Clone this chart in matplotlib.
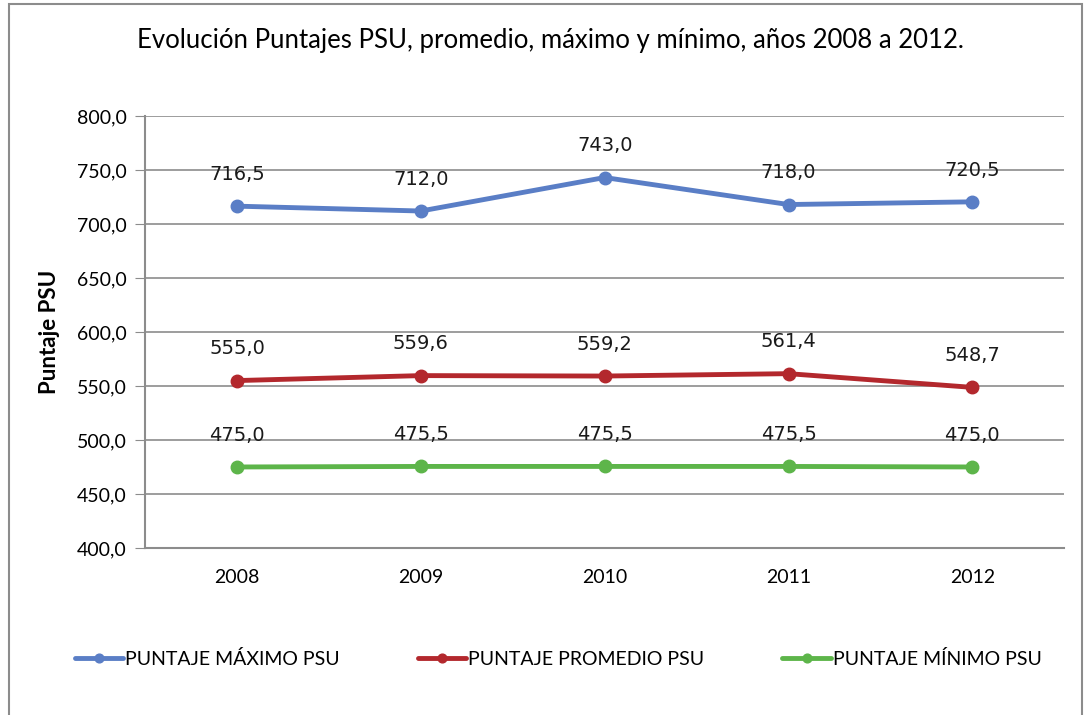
import matplotlib
matplotlib.use("Agg")
import matplotlib.pyplot as plt
from matplotlib.patches import Rectangle

years = ["2008", "2009", "2010", "2011", "2012"]
maximo = [716.5, 712.0, 743.0, 718.0, 720.5]
promedio = [555.0, 559.6, 559.2, 561.4, 548.7]
minimo = [475.0, 475.5, 475.5, 475.5, 475.0]
yticks = [400, 450, 500, 550, 600, 650, 700, 750, 800]

title = "Evolución Puntajes PSU, promedio, máximo y mínimo, años 2008 a 2012."
labels = ["PUNTAJE MÁXIMO PSU", "PUNTAJE PROMEDIO PSU", "PUNTAJE MÍNIMO PSU"]
colors = ["#5A7EC6", "#B3282D", "#5DB54A"]

narrow = ["Lato", "DejaVu Sans"]

fig = plt.figure(figsize=(10.84, 7.15), dpi=100)
fig.patches.append(Rectangle((0.008, -0.05), 0.99, 1.045, transform=fig.transFigure,
                             fill=False, edgecolor="#8c8c8c", linewidth=1.5))

ax = fig.add_axes([0.1338, 0.2336, 0.848, 0.6042])
x = list(range(len(years)))
handles = []
for vals, c, lab in zip([maximo, promedio, minimo], colors, labels):
    h, = ax.plot(x, vals, color=c, linewidth=3.5, marker="o", markersize=9, label=lab,
                 solid_capstyle="round")
    handles.append(h)
    for xi, v in zip(x, vals):
        ax.annotate(f"{v:.1f}".replace(".", ","), (xi, v), xytext=(0, 16),
                    textcoords="offset points", ha="center", va="bottom",
                    fontsize=14, color="#1a1a1a")

ax.set_xlim(-0.5, 4.5)
ax.set_ylim(400, 800)
ax.set_yticks(yticks)
ax.set_yticklabels([f"{t:.1f}".replace(".", ",") for t in yticks], fontsize=14, family=narrow)
ax.set_xticks(x)
ax.set_xticklabels(years, fontsize=14, family=narrow)
ax.tick_params(axis="x", length=0, pad=15)
ax.tick_params(axis="y", length=7, color="#8c8c8c", pad=6)
ax.grid(axis="y", color="#8c8c8c", linewidth=1.2)
ax.set_axisbelow(True)
for s in ["top", "right"]:
    ax.spines[s].set_visible(False)
ax.spines["left"].set_color("#8c8c8c")
ax.spines["left"].set_linewidth(1.5)
ax.spines["bottom"].set_color("#8c8c8c")
ax.spines["bottom"].set_linewidth(1.5)
ax.set_ylabel("Puntaje PSU", fontsize=16, fontweight="bold", family=narrow, labelpad=12)

fig.text(0.508, 0.943, title, ha="center", va="center", fontsize=18.5, family=narrow)

fig.legend(handles=handles, loc="center", bbox_to_anchor=(0.515, 0.078), ncol=3,
           frameon=False, prop={"family": narrow, "size": 14},
           handlelength=2.5, handletextpad=0.1, columnspacing=4.0, markerscale=0.7)

fig.savefig("out.png", dpi=100)
